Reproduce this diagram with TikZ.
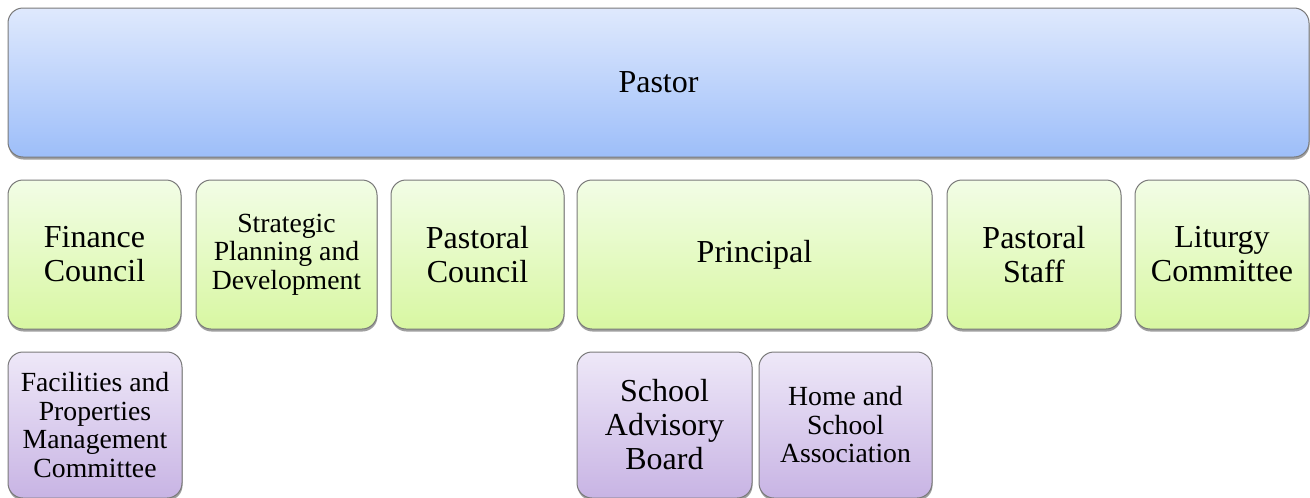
\documentclass[tikz,border=0pt]{standalone}
\usepackage{fontspec}
\setmainfont{Liberation Serif}
\usetikzlibrary{shadows}
\definecolor{bluetop}{HTML}{DFE9FD}
\definecolor{bluebot}{HTML}{9DBEF9}
\definecolor{greentop}{HTML}{F2FDE6}
\definecolor{greenbot}{HTML}{D8F7A2}
\definecolor{purptop}{HTML}{EEE8F8}
\definecolor{purpbot}{HTML}{C8B4E4}
\definecolor{edgegray}{HTML}{7A7A7A}
\tikzset{
  orgbox/.style={draw=edgegray, line width=1pt, rounded corners=15pt, inner sep=0pt,
    align=center, drop shadow={shadow xshift=0.5pt, shadow yshift=-2.5pt, opacity=0.5, fill=black!75}},
  bluebox/.style={orgbox, top color=bluetop, bottom color=bluebot},
  greenbox/.style={orgbox, top color=greentop, bottom color=greenbot},
  purpbox/.style={orgbox, top color=purptop, bottom color=purpbot},
  bigtext/.style={font=\fontsize{32}{34}\selectfont},
  smalltext/.style={font=\fontsize{27.7}{28.5}\selectfont},
}
\begin{document}
\begin{tikzpicture}[x=1pt,y=-1pt]
\useasboundingbox (0,0) rectangle (1310,498);
\node[bluebox, bigtext, minimum width=1301pt, minimum height=149pt] (pastor) at (658.5,82.5) {Pastor};
% green row
\node[greenbox, bigtext, minimum width=173pt, minimum height=149pt] (finance) at (94.5,254.5) {Finance\\Council};
\node[greenbox, smalltext, minimum width=181pt, minimum height=149pt] (strategic) at (286.5,254.5) {Strategic\\Planning and\\Development};
\node[greenbox, bigtext, minimum width=173pt, minimum height=149pt] (pcouncil) at (477.5,254.5) {Pastoral\\Council};
\node[greenbox, bigtext, minimum width=355pt, minimum height=149pt] (principal) at (754.5,254.5) {Principal};
\node[greenbox, bigtext, minimum width=174pt, minimum height=149pt] (pstaff) at (1034,254.5) {Pastoral\\Staff};
\node[greenbox, bigtext, minimum width=174pt, minimum height=149pt] (liturgy) at (1222,254.5) {Liturgy\\Committee};
% purple row
\node[purpbox, smalltext, minimum width=174pt, minimum height=146pt] (facilities) at (95,425) {Facilities and\\Properties\\Management\\Committee};
\node[purpbox, bigtext, minimum width=175pt, minimum height=146pt] (advisory) at (664.5,425) {School\\Advisory\\Board};
\node[purpbox, smalltext, minimum width=173pt, minimum height=146pt] (homeschool) at (845.5,425) {Home and\\School\\Association};
\end{tikzpicture}
\end{document}
